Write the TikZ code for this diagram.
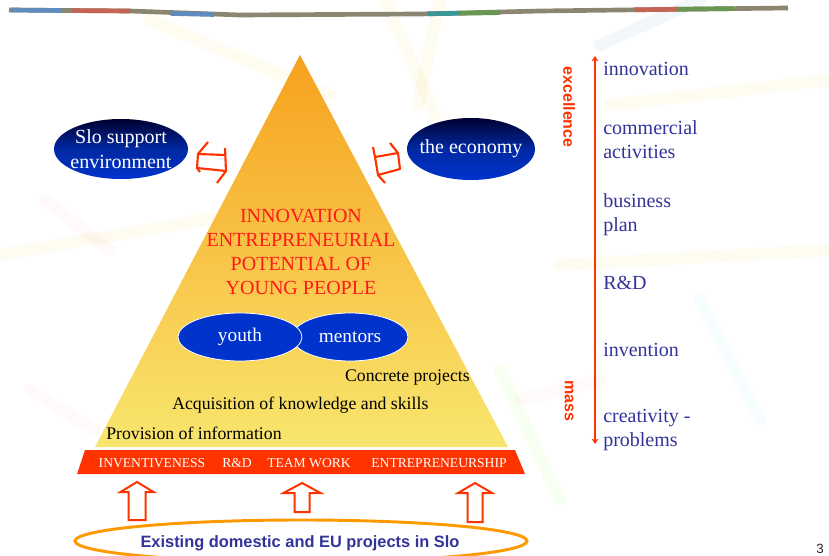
\documentclass[tikz,border=0pt]{standalone}
\usepackage{fontspec}
\setmainfont{Liberation Serif}
\newfontfamily\sansf{Liberation Sans}
\usetikzlibrary{shapes.geometric,arrows.meta}

\definecolor{apexorange}{HTML}{F7A11E}
\definecolor{midorange}{HTML}{F8C748}
\definecolor{baseyellow}{HTML}{F8E66E}
\definecolor{bannerred}{HTML}{FF3300}
\definecolor{ovalblue}{HTML}{0033CC}
\definecolor{ovaldark}{HTML}{000030}
\definecolor{labelblue}{HTML}{333399}
\definecolor{ringorange}{HTML}{FF9900}
\definecolor{titlered}{HTML}{FF1A1A}
\definecolor{bandgray}{HTML}{8A8670}

\newcommand\fsz[2]{\fontsize{#1}{#2}\selectfont}

\tikzset{
  darkoval/.style={ellipse, inner sep=0pt, top color=ovaldark, bottom color=ovalblue,
    middle color=ovalblue!80!black},
  ovaltext/.style={text=white, align=center, font=\fsz{15}{18.5}, inner sep=0pt},
  blueoval/.style={ellipse, inner sep=0pt, fill=ovalblue, draw=white, line width=0.6pt,
    text=white, font=\fsz{14.5}{17}},
  twoway/.style={draw=bannerred, line width=1.6pt, line join=round},
  hollowup/.style={draw=bannerred, fill=white, line width=1.5pt, line join=miter},
  titletext/.style={text=titlered, align=center, font=\fsz{15}{18}},
  layertext/.style={text=black, font=\fsz{13.3}{15}, inner sep=0pt},
  bannertext/.style={text=white, font=\fsz{10.2}{12}, inner sep=0pt},
  scalelabel/.style={text=labelblue, font=\fsz{15}{18}, anchor=west, align=left, inner sep=0pt},
  poletext/.style={text=bannerred, font=\sansf\bfseries\fsz{12}{14}, rotate=-90, inner sep=0pt},
  stick/.style={line width=9pt, line cap=round, opacity=0.06},
}

\begin{document}
\begin{tikzpicture}[x=0.75pt, y=-0.75pt]
\useasboundingbox (0,0) rectangle (829,556);
\fill[white] (0,0) rectangle (829,556);

% faint pencils in the background
\draw[stick, yellow!60!orange] (385,0) -- (435,115);
\draw[stick, yellow!60!orange] (440,0) -- (418,105);
\draw[stick, cyan!60!blue] (600,45) -- (700,0);
\draw[stick, yellow!70!orange] (610,105) -- (829,80);
\draw[stick, yellow!60!orange] (0,255) -- (290,205);
\draw[stick, red!40] (45,200) -- (110,250);
\draw[stick, yellow!70!orange] (560,265) -- (829,250);
\draw[stick, green!50!yellow] (500,370) -- (560,500);
\draw[stick, yellow!60!orange] (150,20) -- (330,95);
\draw[stick, red!40] (30,390) -- (95,430);
\draw[stick, red!40] (520,400) -- (600,380);
\draw[stick, cyan!50] (700,300) -- (760,420);

% header band
\draw[bandgray, line width=3.5pt] (9,10) -- (130,11) -- (240,15) -- (420,14)
  -- (540,11) -- (700,9) -- (788,8);
\draw[line width=3.5pt, color={rgb,255:red,95;green,140;blue,190}] (11,10) -- (62,10.5);
\draw[line width=3.5pt, color={rgb,255:red,195;green,100;blue,85}] (72,10.6) -- (130,11);
\draw[line width=3.5pt, color={rgb,255:red,95;green,140;blue,190}] (171,13.5) -- (214,14.5);
\draw[line width=3.5pt, color={rgb,255:red,60;green,150;blue,150}] (428,13.8) -- (460,13.3);
\draw[line width=3.5pt, color={rgb,255:red,105;green,150;blue,80}] (460,13.3) -- (500,12.6);
\draw[line width=3.5pt, color={rgb,255:red,195;green,100;blue,85}] (635,9.8) -- (677,9.3);
\draw[line width=3.5pt, color={rgb,255:red,105;green,150;blue,80}] (677,9.3) -- (734,8.6);

% the pyramid
\coordinate (apex) at (300,55);
\coordinate (baseL) at (95,447);
\coordinate (baseR) at (508,447);
\shade[top color=apexorange, middle color=midorange, bottom color=baseyellow]
  (apex) -- (baseR) -- (baseL) -- cycle;

\node[titletext] (title) at (301,252)
  {INNOVATION\\ENTREPRENEURIAL\\POTENTIAL OF\\YOUNG PEOPLE};

% partners of the pyramid
\node[darkoval, minimum width=100.5pt, minimum height=45pt] (slo) at (121,149) {};
\node[ovaltext] (slotext) at (slo.center) {Slo support\\environment};
\node[darkoval, minimum width=96pt, minimum height=46.5pt] (econ) at (471,149) {};
\node[ovaltext] (econtext) at (econ.center) {the economy};

% two-way links
\draw[twoway] (208,142) -- (198,154) -- (197,168) -- (226,171) -- (217,183);
\draw[twoway] (198,154) -- (225,155);
\draw[twoway] (225,148) -- (226,171);
\draw[twoway] (197,168) -- (200,172);

\draw[twoway] (390,143) -- (398,153) -- (400,169) -- (378,175) -- (385,183);
\draw[twoway] (398,153) -- (375,157);
\draw[twoway] (373,147) -- (375,157) -- (378,175);

% youth and mentors
\node[blueoval, minimum width=87pt, minimum height=36pt] (mentors) at (350,337) {mentors};
\node[blueoval, minimum width=93pt, minimum height=36pt] (youth) at (240,337) {youth};

% levels of the pyramid
\node[layertext, anchor=east] (concrete) at (470,378) {Concrete projects};
\node[layertext, anchor=west] (acq) at (172,405) {Acquisition of knowledge and skills};
\node[layertext, anchor=west] (prov) at (106,433) {Provision of information};

% foundation banner
\fill[bannerred] (85,450) -- (515,450) -- (525,474) -- (77,474) -- cycle;
\node[bannertext] (inv) at (152,463) {INVENTIVENESS};
\node[bannertext] (rd) at (237,463) {R\&D};
\node[bannertext] (team) at (309,463) {TEAM WORK};
\node[bannertext] (entr) at (439,463) {ENTREPRENEURSHIP};

% supporting projects
\node[ellipse, draw=ringorange, line width=2.2pt, inner sep=0pt,
  minimum width=339pt, minimum height=31.5pt] (projects) at (301,541) {};
\node[text=labelblue, font=\sansf\bfseries\fsz{12.3}{14}] (projtext) at (300,543)
  {Existing domestic and EU projects in Slo};

% arrows from the projects up to the foundation
\coordinate (up1) at (137,520);
\coordinate (up2) at (302,512);
\coordinate (up3) at (475,522);
\draw[hollowup] (up1) ++(-8.5,0) -- ++(0,-28) -- ++(-8,0) -- ++(16.5,-10)
  -- ++(16.5,10) -- ++(-8,0) -- ++(0,28) -- cycle;
\draw[hollowup] (up2) ++(-7.5,0) -- ++(0,-19) -- ++(-11,0) -- ++(18.5,-10)
  -- ++(18.5,10) -- ++(-11,0) -- ++(0,19) -- cycle;
\draw[hollowup] (up3) ++(-7.5,0) -- ++(0,-29) -- ++(-9.5,0) -- ++(17,-10)
  -- ++(17,10) -- ++(-9.5,0) -- ++(0,29) -- cycle;

% scale from mass to excellence
\coordinate (scaletop) at (595,56);
\coordinate (scalebot) at (595,444);
\draw[bannerred, line width=2.2pt,
  {Stealth[length=4pt,width=5pt]}-{Stealth[length=4pt,width=5pt]}] (scalebot) -- (scaletop);
\node[poletext] (excel) at (569,107) {excellence};
\node[poletext] (mass) at (569,401) {mass};

\node[scalelabel] (l1) at (603,69) {innovation};
\node[scalelabel] (l2) at (603,140) {commercial\\activities};
\node[scalelabel] (l3) at (603,215) {business\\plan};
\node[scalelabel] (l4) at (603,283) {R\&D};
\node[scalelabel] (l5) at (603,350) {invention};
\node[scalelabel] (l6) at (603,430) {creativity -\\problems};

% slide number
\node[text=black!85, font=\sansf\fsz{10}{12}] (pageno) at (820,549) {3};
\end{tikzpicture}
\end{document}
